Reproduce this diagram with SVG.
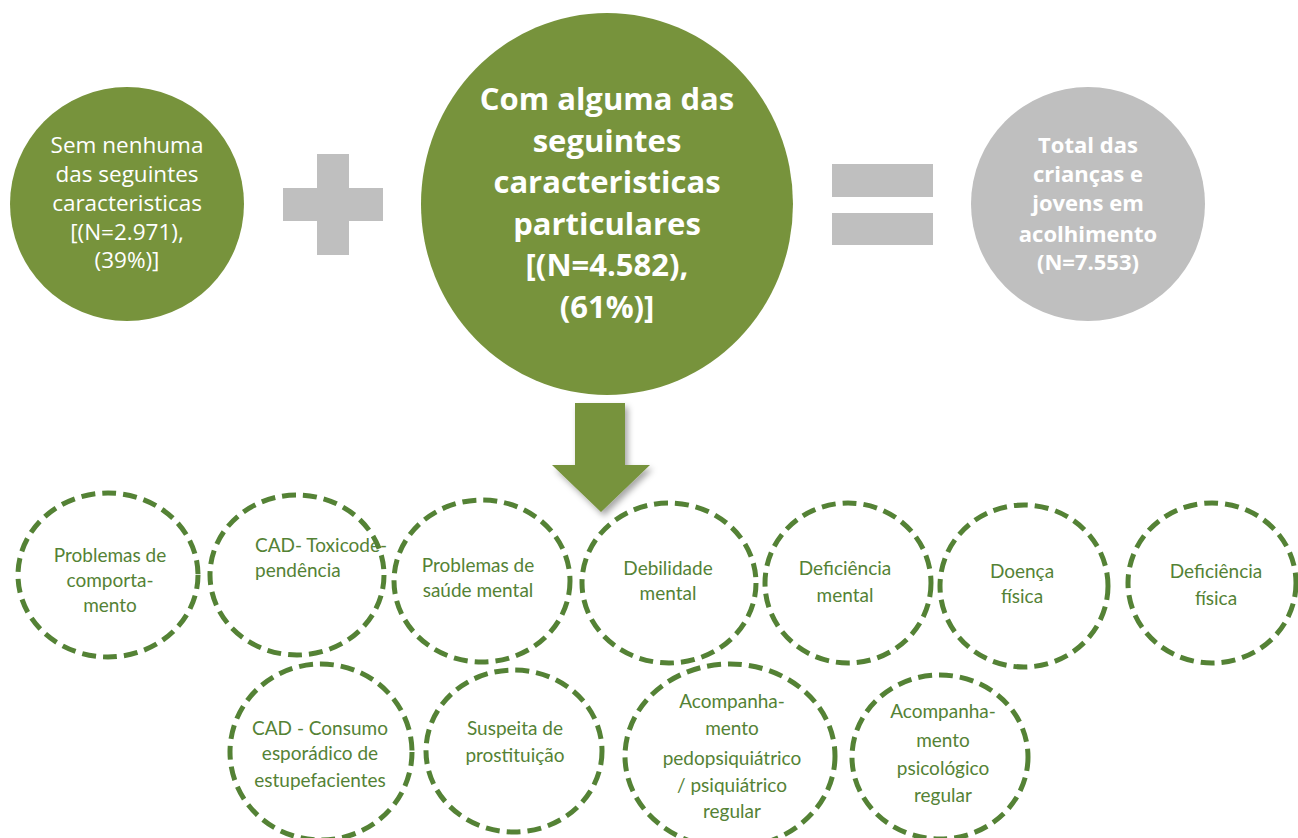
<svg xmlns="http://www.w3.org/2000/svg" width="1298" height="838" viewBox="0 0 1298 838">
<defs>
<style>
.fillg{fill:#77933c}
.gray{fill:#bfbfbf}
.dash{fill:none;stroke:#548235;stroke-width:5;stroke-dasharray:14 7}
.t{font-family:Lato,"Open Sans",sans-serif;text-anchor:middle}
.o{font-family:"Open Sans",Lato,sans-serif;text-anchor:middle}
.w{fill:#ffffff}
.g{fill:#548235;font-size:19px}
.big{font-size:31px;font-weight:bold}
.mid{font-size:22.5px}
.gt{font-size:22px;font-weight:bold}
</style>
<filter id="sh" x="-30%" y="-30%" width="160%" height="160%">
<feDropShadow dx="3" dy="4" stdDeviation="3" flood-color="#000" flood-opacity="0.35"/>
</filter>
</defs>
<rect width="1298" height="838" fill="#ffffff"/>

<g id="node-sem">
<circle class="fillg" cx="127" cy="204" r="117"/>
<text class="o w mid"><tspan x="127" y="153">Sem nenhuma</tspan><tspan x="127" y="182">das seguintes</tspan><tspan x="127" y="211">caracteristicas</tspan><tspan x="127" y="240">[(N=2.971),</tspan><tspan x="127" y="268">(39%)]</tspan></text>
</g>

<g id="plus">
<rect class="gray" x="317" y="154" width="32" height="101"/>
<rect class="gray" x="283" y="188" width="100" height="33"/>
</g>

<g id="node-com">
<ellipse class="fillg" cx="607" cy="204" rx="186" ry="191"/>
<text class="o w big"><tspan x="607" y="110">Com alguma das</tspan><tspan x="607" y="152">seguintes</tspan><tspan x="607" y="193">caracteristicas</tspan><tspan x="607" y="235">particulares</tspan><tspan x="607" y="276">[(N=4.582),</tspan><tspan x="607" y="318">(61%)]</tspan></text>
</g>

<g id="equals">
<rect class="gray" x="832" y="164" width="101" height="33"/>
<rect class="gray" x="832" y="213" width="101" height="32"/>
</g>

<g id="node-total">
<circle class="gray" cx="1088" cy="204" r="117"/>
<text class="o w gt"><tspan x="1088" y="153">Total das</tspan><tspan x="1088" y="182">crianças e</tspan><tspan x="1088" y="211">jovens em</tspan><tspan x="1088" y="242">acolhimento</tspan><tspan x="1088" y="270">(N=7.553)</tspan></text>
</g>

<g id="connectors">
<polygon class="fillg" filter="url(#sh)" points="575,403 625,403 625,465 650,465 601,512 552,465 575,465"/>
</g>

<g id="n1">
<ellipse class="dash" cx="108" cy="575" rx="90" ry="82"/>
<text class="t g"><tspan x="110" y="562">Problemas de</tspan><tspan x="110" y="587">comporta-</tspan><tspan x="110" y="612">mento</tspan></text>
</g>
<g id="n2">
<ellipse class="dash" cx="297" cy="575" rx="87" ry="80"/>
<text class="t g" style="text-anchor:start"><tspan x="255" y="552">CAD- Toxicode-</tspan><tspan x="255" y="577">pendência</tspan></text>
</g>
<g id="n3">
<ellipse class="dash" cx="482" cy="581" rx="88" ry="81"/>
<text class="t g"><tspan x="478" y="572">Problemas de</tspan><tspan x="478" y="597">saúde mental</tspan></text>
</g>
<g id="n4">
<ellipse class="dash" cx="669" cy="583" rx="87" ry="80"/>
<text class="t g"><tspan x="668" y="575">Debilidade</tspan><tspan x="668" y="600">mental</tspan></text>
</g>
<g id="n5">
<ellipse class="dash" cx="848" cy="583" rx="83" ry="80"/>
<text class="t g"><tspan x="845" y="575">Deficiência</tspan><tspan x="845" y="602">mental</tspan></text>
</g>
<g id="n6">
<ellipse class="dash" cx="1024" cy="586" rx="84" ry="81"/>
<text class="t g"><tspan x="1022" y="578">Doença</tspan><tspan x="1022" y="603">física</tspan></text>
</g>
<g id="n7">
<ellipse class="dash" cx="1212" cy="583" rx="84" ry="80"/>
<text class="t g"><tspan x="1216" y="578">Deficiência</tspan><tspan x="1216" y="605">física</tspan></text>
</g>
<g id="n8">
<ellipse class="dash" cx="321" cy="752" rx="91" ry="88"/>
<text class="t g"><tspan x="320" y="735">CAD - Consumo</tspan><tspan x="320" y="760">esporádico de</tspan><tspan x="320" y="787">estupefacientes</tspan></text>
</g>
<g id="n9">
<ellipse class="dash" cx="514" cy="751" rx="88" ry="81"/>
<text class="t g"><tspan x="515" y="735">Suspeita de</tspan><tspan x="515" y="762">prostituição</tspan></text>
</g>
<g id="n10">
<ellipse class="dash" cx="730" cy="756" rx="105" ry="92"/>
<text class="t g"><tspan x="732" y="708">Acompanha-</tspan><tspan x="732" y="735">mento</tspan><tspan x="732" y="765">pedopsiquiátrico</tspan><tspan x="732" y="792">/ psiquiátrico</tspan><tspan x="732" y="818">regular</tspan></text>
</g>
<g id="n11">
<ellipse class="dash" cx="940" cy="757" rx="88" ry="82"/>
<text class="t g"><tspan x="943" y="718">Acompanha-</tspan><tspan x="943" y="747">mento</tspan><tspan x="943" y="775">psicológico</tspan><tspan x="943" y="802">regular</tspan></text>
</g>
</svg>
